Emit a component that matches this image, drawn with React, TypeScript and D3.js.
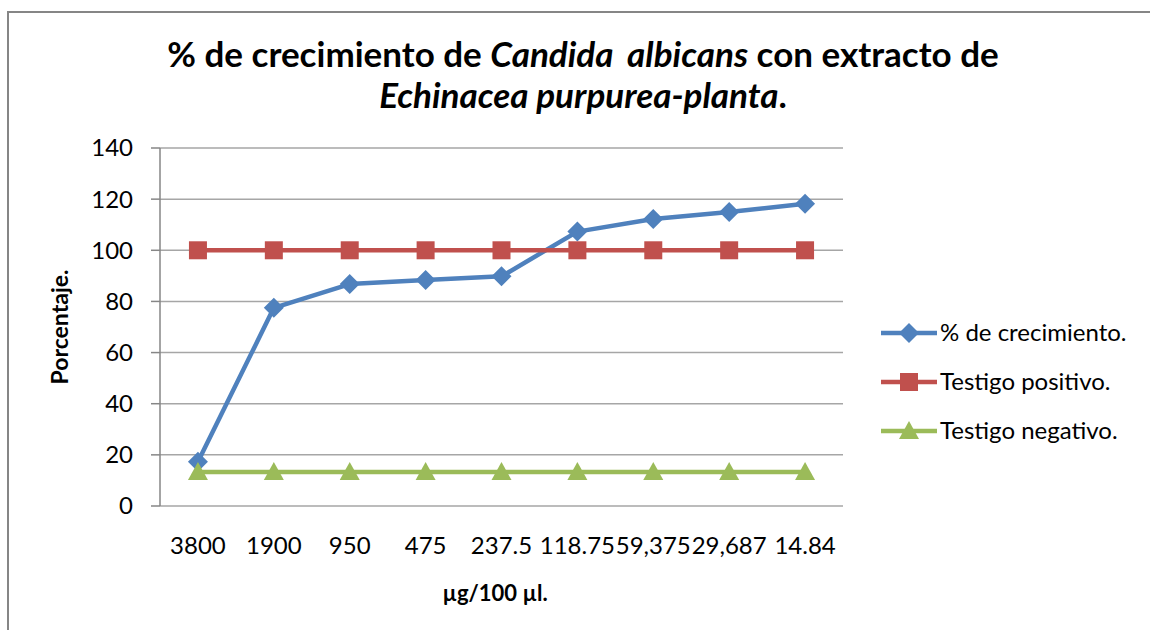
import React from "react";
import * as d3 from "d3";

// concentrations (µg/100 µl) as printed on the axis
const categories = ["3800", "1900", "950", "475", "237.5", "118.75", "59,375", "29,687", "14.84"];
const crecimiento = [17.3, 77.5, 86.8, 88.4, 89.8, 107.3, 112.2, 115.0, 118.2];
const positivo = [100, 100, 100, 100, 100, 100, 100, 100, 100];
const negativo = [13.3, 13.3, 13.3, 13.3, 13.3, 13.3, 13.3, 13.3, 13.3];
const yTicks = [0, 20, 40, 60, 80, 100, 120, 140];

const seriesList = [
    { name: "% de crecimiento.", values: crecimiento, color: "#4F81BD", marker: "diamond" },
    { name: "Testigo positivo.", values: positivo, color: "#C0504D", marker: "square" },
    { name: "Testigo negativo.", values: negativo, color: "#9BBB59", marker: "triangle" },
];

const FONT = "Lato, 'Open Sans', sans-serif";

function Marker({ type, x, y, color }: { type: string; x: number; y: number; color: string }) {
    if (type === "diamond") {
        return <path d={`M${x},${y - 10}L${x + 10},${y}L${x},${y + 10}L${x - 10},${y}Z`} fill={color} />;
    }
    if (type === "square") {
        return <rect x={x - 9} y={y - 9} width={18} height={18} fill={color} />;
    }
    return <path d={`M${x},${y - 10}L${x + 10},${y + 8}L${x - 10},${y + 8}Z`} fill={color} />;
}

export default function App() {
    const width = 1150;
    const height = 630;
    const margin = { left: 160, right: 307, top: 148, bottom: 124 };

    const x = d3.scaleBand<string>()
        .domain(categories)
        .range([margin.left, width - margin.right]);

    const y = d3.scaleLinear()
        .domain([0, 140])
        .range([height - margin.bottom, margin.top]);

    const cx = (c: string) => (x(c) ?? 0) + x.bandwidth() / 2;

    const line = d3.line<number>()
        .x((_, i) => cx(categories[i]))
        .y(d => y(d));

    return (
        <svg width={width} height={height} style={{ position: "absolute", left: 0, top: 0, background: "#fff" }}>
            {/* chart frame */}
            <path d={`M8,${height}L8,12L${width},12`} fill="none" stroke="#868686" strokeWidth={2} />

            {/* title */}
            <text x={583} y={67} textAnchor="middle" fontFamily={FONT} fontWeight="bold" fontSize={35} fill="#000">
                % de crecimiento de <tspan fontStyle="italic" wordSpacing={6}>Candida albicans</tspan> con extracto de
            </text>
            <text x={583} y={108} textAnchor="middle" fontFamily={FONT} fontWeight="bold" fontSize={35} fill="#000">
                <tspan fontStyle="italic">Echinacea purpurea-planta</tspan>.
            </text>

            {/* gridlines + y ticks */}
            {yTicks.map(t => (
                <g key={t}>
                    <line x1={margin.left} x2={width - margin.right} y1={y(t)} y2={y(t)} stroke="#A6A6A6" strokeWidth={1.5} />
                    <line x1={margin.left - 9} x2={margin.left} y1={y(t)} y2={y(t)} stroke="#868686" strokeWidth={1.5} />
                    <text x={133} y={y(t)} dy="0.35em" textAnchor="end" fontFamily={FONT} fontSize={24} fill="#000">{t}</text>
                </g>
            ))}
            <line x1={margin.left} x2={margin.left} y1={y(140)} y2={y(0)} stroke="#868686" strokeWidth={1.5} />

            {/* x labels */}
            {categories.map(c => (
                <text key={c} x={cx(c)} y={554} textAnchor="middle" fontFamily={FONT} fontSize={24} fill="#000">{c}</text>
            ))}

            {/* axis titles */}
            <text transform={`translate(68,${y(70)}) rotate(-90)`} textAnchor="middle" fontFamily={FONT} fontWeight="bold" fontSize={23} fill="#000">Porcentaje.</text>
            <text x={495} y={601} textAnchor="middle" fontFamily={FONT} fontWeight="bold" fontSize={22} fill="#000">µg/100 µl.</text>

            {/* series */}
            {seriesList.map(s => (
                <g key={s.name}>
                    <path d={line(s.values) ?? ""} fill="none" stroke={s.color} strokeWidth={4.5} strokeLinejoin="round" />
                    {s.values.map((v, i) => (
                        <Marker key={i} type={s.marker} x={cx(categories[i])} y={y(v)} color={s.color} />
                    ))}
                </g>
            ))}

            {/* legend */}
            {seriesList.map((s, i) => {
                const ly = 333 + i * 49;
                return (
                    <g key={s.name}>
                        <line x1={881} x2={937} y1={ly} y2={ly} stroke={s.color} strokeWidth={4.5} />
                        <Marker type={s.marker} x={909} y={ly} color={s.color} />
                        <text x={940} y={ly} dy="0.35em" fontFamily={FONT} fontSize={24} fill="#000">{s.name}</text>
                    </g>
                );
            })}
        </svg>
    );
}
